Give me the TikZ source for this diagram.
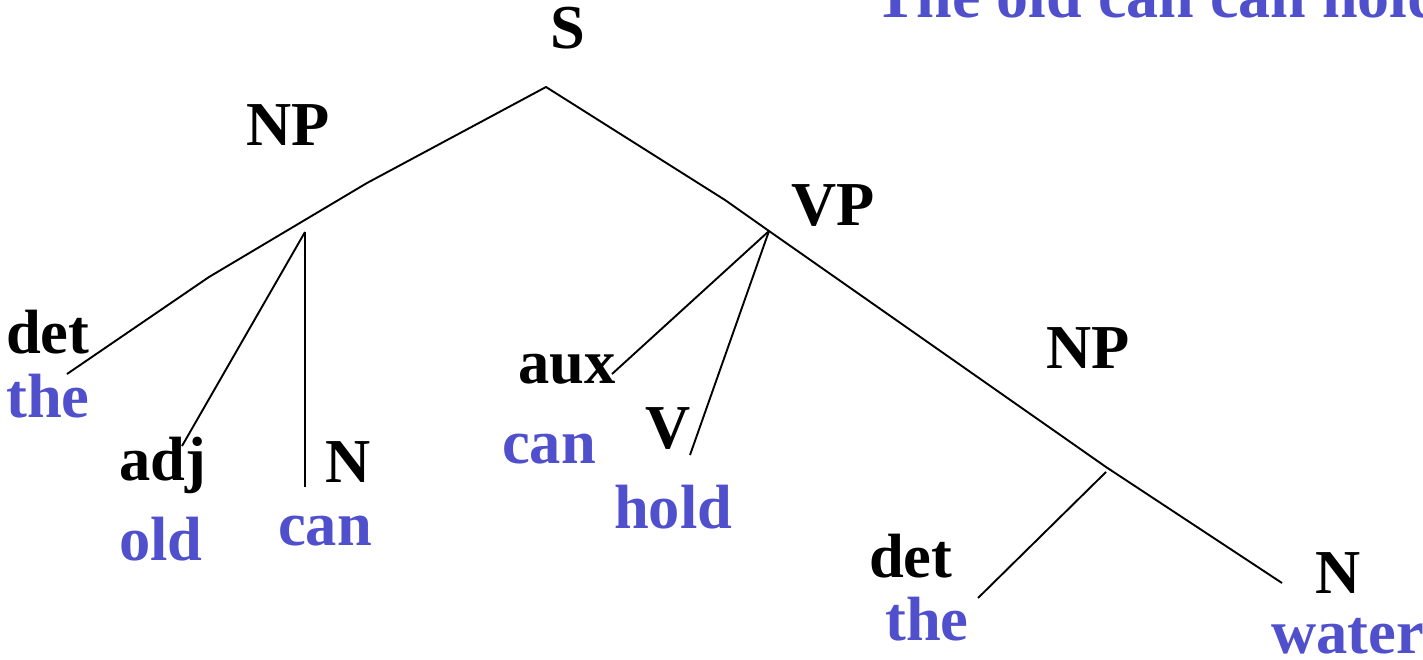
\documentclass[tikz,border=0pt]{standalone}
\usepackage{fontspec}
\setmainfont{Liberation Serif}
\definecolor{wordblue}{RGB}{80,80,205}
\tikzset{
  lbl/.style={anchor=base west, inner sep=0pt, font=\bfseries\fontsize{62.5}{74}\selectfont, text=black},
  word/.style={lbl, text=wordblue},
  branch/.style={draw=black, line width=1.9pt}
}
\begin{document}
\begin{tikzpicture}[x=1pt,y=-1pt]
\useasboundingbox (0,0) rectangle (1423,659);
\clip (0,0) rectangle (1423,659);
% title (cut by the frame)
\node[word, font=\bfseries\fontsize{64}{76}\selectfont] (title) at (874,17) {The old can can hold};
% labels
\node[lbl] (S) at (550,48) {S};
\node[lbl] (NP1) at (246,145) {NP};
\node[lbl] (VP) at (791,225) {VP};
\node[lbl] (det1) at (6,353) {det};
\node[word] (the1) at (6,417) {the};
\node[lbl] (adj) at (119,480) {adj};
\node[word] (old) at (119,560) {old};
\node[lbl] (N1) at (325,482) {N};
\node[word] (can1) at (278,545) {can};
\node[lbl] (aux) at (518,383) {aux};
\node[word] (can2) at (502,463) {can};
\node[lbl] (V) at (645,448) {V};
\node[word] (hold) at (614,528) {hold};
\node[lbl] (NP2) at (1046,368) {NP};
\node[lbl] (det2) at (869,577) {det};
\node[word] (the2) at (885,640) {the};
\node[lbl] (N2) at (1315,593) {N};
\node[word] (water) at (1271,653) {water};
% branch points
\coordinate (apex) at (546,87);
\coordinate (l1) at (367,183);
\coordinate (l2) at (209,277);
\coordinate (detend1) at (67,374);
\coordinate (npj) at (305,232);
\coordinate (adjend) at (182,446);
\coordinate (nend) at (305,487);
\coordinate (r1) at (725,200);
\coordinate (vpj) at (769,231);
\coordinate (auxend) at (612,374);
\coordinate (vend) at (690,455);
\coordinate (npj2) at (1106,467);
\coordinate (nend2) at (1282,583);
\coordinate (det2top) at (1106,472);
\coordinate (det2end) at (978,598);
% branches
\draw[branch] (detend1) -- (l2) -- (l1) -- (apex) -- (r1) -- (vpj) -- (npj2) -- (nend2);
\draw[branch] (npj) -- (adjend);
\draw[branch] (npj) -- (nend);
\draw[branch] (vpj) -- (auxend);
\draw[branch] (vpj) -- (vend);
\draw[branch] (det2top) -- (det2end);
\end{tikzpicture}
\end{document}
